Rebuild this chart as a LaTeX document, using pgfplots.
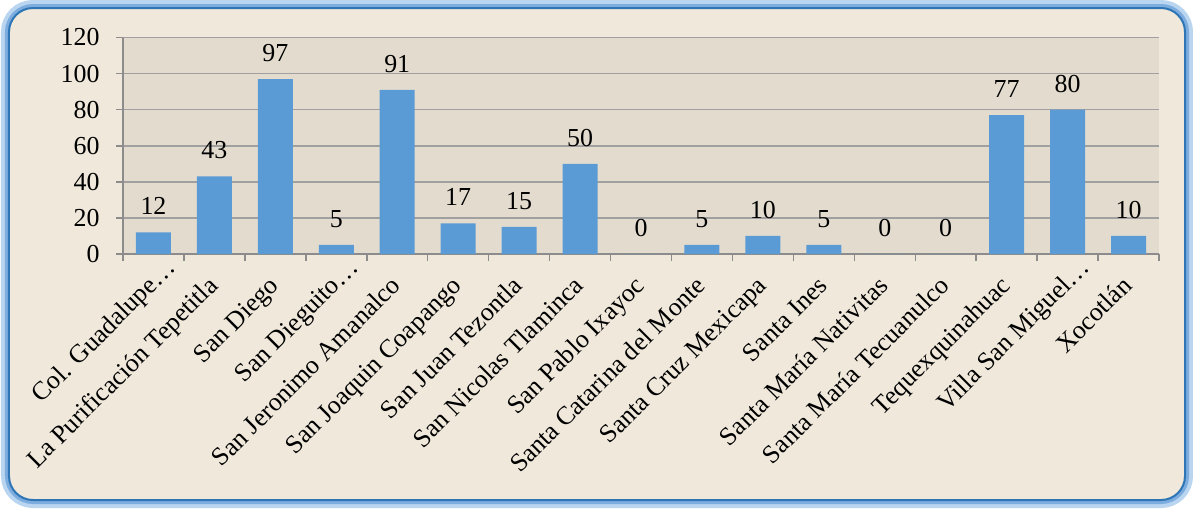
\documentclass[border=0pt]{standalone}
\usepackage{fontspec}
\setmainfont{Liberation Serif}
\usepackage{pgfplots}
\pgfplotsset{compat=1.18}
\definecolor{barblue}{RGB}{91,155,213}
\definecolor{outerbg}{RGB}{239,232,219}
\definecolor{plotbg}{RGB}{227,220,206}
\definecolor{gridc}{RGB}{160,160,160}
\definecolor{axisc}{RGB}{140,140,140}
\definecolor{framec}{RGB}{46,117,182}
\definecolor{glowa}{RGB}{185,213,240}
\definecolor{glowb}{RGB}{125,172,222}
\begin{document}
\begin{tikzpicture}[x=1bp,y=1bp]
\useasboundingbox (-61.5,-127) rectangle (535,127);
\fill[white] (-61.5,-127) rectangle (535,127);
\draw[glowa, line width=8bp, rounded corners=12bp] (-57,-123) rectangle (531,123);
\draw[glowb, line width=4bp, rounded corners=12bp] (-57,-123) rectangle (531,123);
\draw[framec, line width=1bp, fill=outerbg, rounded corners=12bp] (-57,-123) rectangle (531,123);
\begin{axis}[
  at={(0,0)}, anchor=south west,
  scale only axis, width=518bp, height=108.25bp,
  xmin=-0.5, xmax=16.5, ymin=0, ymax=120,
  ytick={0,20,...,120},
  xtick={0,...,16},
  xticklabels={Col. Guadalupe\rlap{…}, La Purificación Tepetitla, San Diego, San Dieguito\rlap{…}, San Jeronimo Amanalco, San Joaquin Coapango, San Juan Tezontla, San Nicolas Tlaminca, San Pablo Ixayoc, Santa Catarina del Monte, Santa Cruz Mexicapa, Santa Ines, Santa María Nativitas, Santa María Tecuanulco, Tequexquinahuac, Villa San Miguel\rlap{…}, Xocotlán},
  minor xtick={-0.5,0.5,...,16.5},
  axis x line*=bottom, axis y line*=left,
  axis line style={-, draw=axisc, line width=0.75bp},
  tick align=outside,
  major x tick style={draw=none},
  minor x tick style={draw=axisc, line width=0.75bp},
  major y tick style={draw=axisc, line width=0.75bp},
  major tick length=3.5bp, minor tick length=3.5bp,
  ymajorgrids, major grid style={draw=gridc, line width=0.75bp},
  axis background/.style={fill=plotbg},
  /pgf/number format/assume math mode=true,
  ticklabel style={font=\fontsize{13}{15}\selectfont, text=black},
  yticklabel style={inner sep=0pt, xshift=-8bp},
  xticklabel style={xshift=2.5bp, yshift=-13bp, rotate=45, anchor=base east, inner sep=0pt},
  ybar, bar width=17.5bp,
  nodes near coords,
  nodes near coords style={font=\fontsize{13}{15}\selectfont, anchor=south, inner sep=0pt, yshift=8.5bp, text=black},
  clip=false,
]
\addplot[fill=barblue, draw=none] coordinates {
(0,12) (1,43) (2,97) (3,5) (4,91) (5,17) (6,15) (7,50) (8,0) (9,5) (10,10) (11,5) (12,0) (13,0) (14,77) (15,80) (16,10)
};
\end{axis}
\end{tikzpicture}
\end{document}
